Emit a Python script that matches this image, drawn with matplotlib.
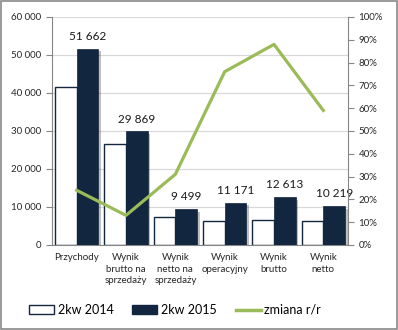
import matplotlib
matplotlib.use("Agg")
import matplotlib.pyplot as plt
import matplotlib.patheffects as pe
import numpy as np
from matplotlib.patches import Rectangle
from matplotlib.lines import Line2D

categories = ["Przychody", "Wynik\nbrutto na\nsprzedaży", "Wynik\nnetto na\nsprzedaży",
              "Wynik\noperacyjny", "Wynik\nbrutto", "Wynik\nnetto"]
kw2014 = [41500, 26500, 7300, 6300, 6700, 6400]
kw2015 = [51662, 29869, 9499, 11171, 12613, 10219]
zmiana = [24, 13, 31, 76, 88, 59]

plt.rcParams["font.family"] = ["Lato", "DejaVu Sans"]
navy = "#12263F"
green = "#9BBB59"
gray = "#868686"

fig = plt.figure(figsize=(3.98, 3.30), dpi=100)
ax = fig.add_axes([52 / 398, 1 - 245 / 330, 296 / 398, 228 / 330])
x = np.arange(len(categories))
w = 0.44

ax.bar(x - w / 2, kw2014, w, color="white", edgecolor=navy, linewidth=1.0, zorder=2)
bars = ax.bar(x + w / 2, kw2015, w, color=navy, edgecolor=navy, linewidth=0.5, zorder=3,
              path_effects=[pe.SimplePatchShadow(offset=(2, -2), shadow_rgbFace="#000000", alpha=0.25),
                            pe.Normal()])
for xi, v in zip(x, kw2015):
    ax.text(xi + w / 2, v + 1800, f"{v:,}".replace(",", " "), ha="center", va="bottom",
            fontsize=8.5, color="#1a1a1a", zorder=5)

ax.set_xlim(-0.5, len(categories) - 0.5)
ax.set_ylim(0, 60000)
ax.set_yticks(np.arange(0, 60001, 10000))
ax.set_yticklabels([f"{v:,}".replace(",", " ") for v in range(0, 60001, 10000)])
ax.yaxis.grid(True, color="#D9D9D9", linewidth=0.9, zorder=0)
ax.set_axisbelow(True)
ax.set_xticks(x)
ax.set_xticklabels(categories, fontsize=7, color="#262626", linespacing=1.35)
ax.tick_params(axis="x", length=0, pad=6)
ax.tick_params(axis="y", labelsize=7, color=gray, length=4, labelcolor="#262626")
for s in ["top", "right"]:
    ax.spines[s].set_visible(False)
ax.spines["left"].set_color(gray)
ax.spines["bottom"].set_color(gray)

ax2 = ax.twinx()
ax2.plot(x, zmiana, color=green, linewidth=2.3, zorder=4)
ax2.set_ylim(0, 100)
ax2.set_yticks(np.arange(0, 101, 10))
ax2.set_yticklabels([f"{v}%" for v in range(0, 101, 10)])
ax2.tick_params(axis="y", labelsize=7, color=gray, length=4, labelcolor="#262626")
for s in ["top", "left", "bottom"]:
    ax2.spines[s].set_visible(False)
ax2.spines["right"].set_color(gray)

handles = [Rectangle((0, 0), 1, 1, facecolor="white", edgecolor=navy, linewidth=1.0),
           Rectangle((0, 0), 1, 1, facecolor=navy, edgecolor=navy),
           Line2D([0], [0], color=green, linewidth=2.5)]
fig.legend(handles, ["2kw 2014", "2kw 2015", "zmiana r/r"], loc="center",
           bbox_to_anchor=(0.44, 1 - 310 / 330), ncol=3, frameon=False, fontsize=9,
           handlelength=2.0, handleheight=0.65, columnspacing=1.5, handletextpad=0.3)

fig.patches.append(Rectangle((0.002, 0.002), 0.996, 0.996, transform=fig.transFigure,
                             fill=False, edgecolor="#898989", linewidth=1.2))

fig.savefig("out.png", dpi=100)
